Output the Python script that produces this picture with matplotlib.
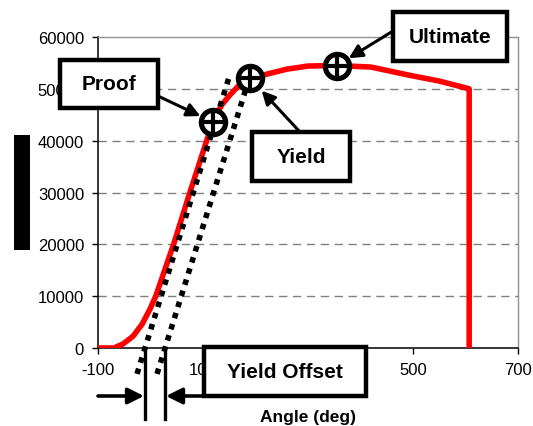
import matplotlib
matplotlib.use("Agg")
import matplotlib.pyplot as plt
from matplotlib.patches import Rectangle, FancyArrowPatch

plt.rcParams['font.family'] = ['Liberation Sans', 'DejaVu Sans']

# ---- data ----
angle = [-100, -70, -52, -33, -16, -1, 10, 27, 44, 75, 107, 119, 135, 151, 167, 190,
         228, 260, 300, 355, 420, 494, 550, 607, 607]
torque = [0, 0, 800, 2300, 4600, 7500, 10000, 15000, 20000, 30000, 40000, 43600, 46800,
          48800, 50500, 52000, 53000, 53800, 54400, 54500, 54200, 52600, 51500, 50000, 0]

# offset (elastic) lines
offset1_x = [-25.7, 151.5]
offset1_y = [-5000, 52850]
offset2_x = [12.4, 187.6]
offset2_y = [-5000, 51900]
offset_at_zero = [-10.5, 27.6]

# key points
points = {"Proof": (119, 43600), "Yield": (190, 52000), "Ultimate": (355, 54500)}

x_ticks = [-100, 100, 300, 500, 700]
y_ticks = [0, 10000, 20000, 30000, 40000, 50000, 60000]
x_label = "Angle (deg)"

W, H = 533, 427
fig = plt.figure(figsize=(W / 100, H / 100), dpi=100)

def px(x, y):
    return (x / W, 1 - y / H)

L, R, T, B = 98, 518, 38, 349
ax = fig.add_axes([L / W, 1 - B / H, (R - L) / W, (B - T) / H])
ax.set_xlim(-100, 700)
ax.set_ylim(0, 60000)
ax.set_xticks(x_ticks)
ax.set_yticks(y_ticks)
ax.set_xticklabels([str(v) for v in x_ticks])
ax.set_yticklabels([str(v) for v in y_ticks])
ax.tick_params(labelsize=12, length=4, width=1, pad=6, direction='out')
for v in y_ticks[1:-1]:
    ax.axhline(v, color='#808080', lw=1, linestyle=(0, (6, 4)), zorder=1)
for s in ['top', 'right']:
    ax.spines[s].set_color('#909090')
    ax.spines[s].set_linewidth(1)
for s in ['left', 'bottom']:
    ax.spines[s].set_color('black')
    ax.spines[s].set_linewidth(1.1)
ax.set_xlabel(x_label, fontsize=12.5, fontweight='bold', labelpad=23)

ax.plot(angle, torque, color='#ff0000', lw=4, zorder=3, solid_joinstyle='round')
for ox, oy in [(offset1_x, offset1_y), (offset2_x, offset2_y)]:
    ax.plot(ox, oy, color='black', lw=4, linestyle=(0, (1.0, 1.1)),
            dash_capstyle='butt', zorder=4, clip_on=False)

for name, (xv, yv) in points.items():
    ax.plot([xv], [yv], marker='o', ms=17.5, mfc='white', mec='black', mew=3.7,
            zorder=6, clip_on=False)
    ax.plot([xv], [yv], marker='+', ms=15, mec='black', mew=3, zorder=7, clip_on=False)

# offset markers below axis
for xv in offset_at_zero:
    ax.plot([xv, xv], [0, -13700], color='black', lw=2.4, clip_on=False, zorder=5)

# black bar (obscured y label)
fig.add_artist(Rectangle(px(14, 251), 16 / W, 115 / H, transform=fig.transFigure,
                         facecolor='black', edgecolor='none'))

def box(x0, y0, x1, y1, text):
    fig.add_artist(Rectangle(px(x0, y1), (x1 - x0) / W, (y1 - y0) / H,
                             transform=fig.transFigure, facecolor='white',
                             edgecolor='black', lw=3.2, zorder=8))
    cx, cy = px((x0 + x1) / 2, (y0 + y1) / 2)
    fig.text(cx, cy, text, ha='center', va='center', fontsize=15,
             fontweight='bold', zorder=9)

box(60, 61, 158, 109, "Proof")
box(393, 13, 507, 62, "Ultimate")
box(252, 133, 350, 182, "Yield")
box(204, 348, 366, 397, "Yield Offset")

arrow = dict(arrowstyle='-|>', lw=2.2, color='black', mutation_scale=20,
             shrinkA=0, shrinkB=10)
ax.annotate("", xy=points["Proof"], xycoords='data', xytext=px(158, 97),
            textcoords='figure fraction', arrowprops=arrow, zorder=10)
ax.annotate("", xy=points["Ultimate"], xycoords='data', xytext=px(393, 32),
            textcoords='figure fraction', arrowprops=arrow, zorder=10)
ax.annotate("", xy=points["Yield"], xycoords='data', xytext=px(300, 133),
            textcoords='figure fraction', arrowprops=dict(arrow, shrinkB=12), zorder=10)

arrow2 = dict(arrowstyle='-|>', lw=2.6, color='black', mutation_scale=24,
              shrinkA=0, shrinkB=0)
fig.add_artist(FancyArrowPatch(px(98, 397), px(144, 397),
               transform=fig.transFigure, **arrow2, zorder=10))
fig.add_artist(FancyArrowPatch(px(215, 397), px(166, 397),
               transform=fig.transFigure, **arrow2, zorder=10))

fig.savefig("out.png", dpi=100)
